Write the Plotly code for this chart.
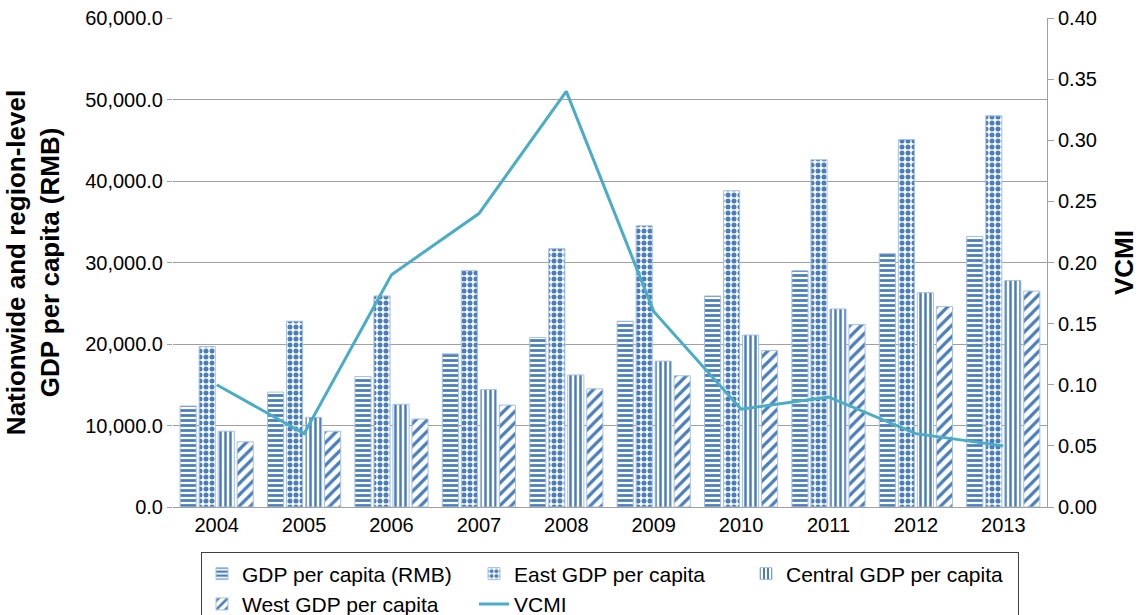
import plotly.graph_objects as go

# chart data
years = ["2004", "2005", "2006", "2007", "2008", "2009", "2010", "2011", "2012", "2013"]
gdp_national = [12400, 14100, 16000, 18800, 20800, 22800, 25900, 29000, 31100, 33200]
gdp_east = [19700, 22800, 25900, 29000, 31700, 34500, 38800, 42600, 45100, 48000]
gdp_central = [9300, 11000, 12600, 14400, 16200, 17900, 21100, 24300, 26300, 27800]
gdp_west = [8000, 9300, 10800, 12500, 14500, 16100, 19200, 22400, 24600, 26500]
vcmi = [0.10, 0.06, 0.19, 0.24, 0.34, 0.16, 0.08, 0.09, 0.06, 0.05]

BLUE = "#4a7ebb"
EDGE = "#a9c1e3"
GRID = "#a0a0a0"
FONT = "Liberation Sans, Arial, sans-serif"


def bar(name, values, shape, size, solidity):
    return go.Bar(
        x=years,
        y=values,
        name=name,
        marker=dict(
            color="white",
            line=dict(color=EDGE, width=1),
            pattern=dict(shape=shape, fgcolor=BLUE, bgcolor="white",
                         size=size, solidity=solidity, fillmode="replace"),
        ),
    )


fig = go.Figure()
fig.add_trace(bar("GDP per capita (RMB)", gdp_national, "-", 5, 0.55))
fig.add_trace(bar("East GDP per capita", gdp_east, ".", 6, 0.55))
fig.add_trace(bar("Central GDP per capita", gdp_central, "|", 5, 0.5))
fig.add_trace(bar("West GDP per capita", gdp_west, "/", 8, 0.4))
fig.add_trace(go.Scatter(
    x=years,
    y=vcmi,
    name="VCMI",
    mode="lines",
    line=dict(color="#4bacc6", width=3),
    yaxis="y2",
))

fig.update_layout(
    width=1142,
    height=615,
    margin=dict(l=173, r=95, t=18, b=108, autoexpand=False),
    paper_bgcolor="white",
    plot_bgcolor="white",
    font=dict(family=FONT, size=20, color="#000000"),
    barmode="group",
    bargap=0.13,
    bargroupgap=0.15,
    showlegend=True,
    legend=dict(
        orientation="h",
        x=0.5,
        xanchor="center",
        y=-0.093,
        yanchor="top",
        entrywidth=227,
        bordercolor="#404040",
        borderwidth=1,
        font=dict(size=21),
        traceorder="normal",
    ),
    xaxis=dict(
        showgrid=False,
        showline=True,
        linecolor=GRID,
        linewidth=1,
        ticks="",
        tickfont=dict(size=20),
    ),
    yaxis=dict(
        range=[0, 60000],
        dtick=10000,
        tickformat=",.1f",
        tickfont=dict(size=20),
        showgrid=True,
        gridcolor=GRID,
        gridwidth=1,
        showline=False,
        ticks="outside",
        ticklen=5,
        tickcolor=GRID,
        zeroline=False,
        title=dict(text="<b>Nationwide and region-level<br>GDP per capita (RMB)</b>",
                   font=dict(size=26), standoff=18),
    ),
    yaxis2=dict(
        overlaying="y",
        side="right",
        range=[0, 0.40],
        dtick=0.05,
        tickformat=".2f",
        tickfont=dict(size=20),
        showgrid=False,
        showline=True,
        linecolor=GRID,
        ticks="outside",
        ticklen=6,
        tickcolor=GRID,
        zeroline=False,
        title=dict(text="<b>VCMI</b>", font=dict(size=26), standoff=18),
    ),
)

# drop the default page margin so the figure sits at the window's corner
fig.write_html("out.html", config={"displayModeBar": False},
               post_script="document.body.style.margin='0';")
